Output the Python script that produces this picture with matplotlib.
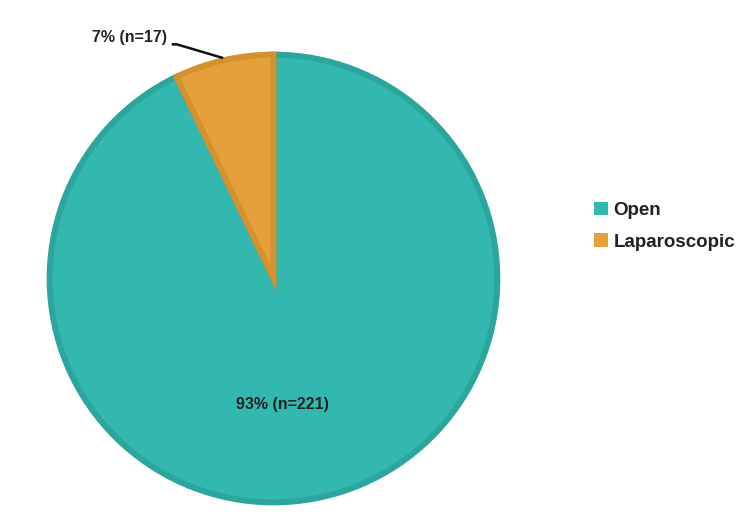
import numpy as np
import matplotlib
matplotlib.use('Agg')
import matplotlib.pyplot as plt
from matplotlib.patches import Patch

labels = ['Open', 'Laparoscopic']
counts = [221, 17]
pcts = ['93%', '7%']
face_colors = ['#33b8b0', '#e5a03a']
edge_colors = ['#2ca59d', '#d3912f']

plt.rcParams['font.family'] = ['Liberation Sans', 'DejaVu Sans']

fig = plt.figure(figsize=(7.5, 5.2), dpi=100)
ax = fig.add_axes([273.5/750 - 227/750, 14.5/520, 454/750, 454/520])

wedges, _ = ax.pie(counts, startangle=90, counterclock=False, radius=1.0,
                   colors=face_colors,
                   wedgeprops=dict(linewidth=4.3))
for w, ec in zip(wedges, edge_colors):
    w.set_edgecolor(ec)
    w.set_joinstyle('miter')

lim = 1.014
ax.set_xlim(-lim, lim)
ax.set_ylim(-lim, lim)
ax.set_aspect('equal')
ax.axis('off')

# label inside the big slice
ax.text(0.042, -0.562, '%s (n=%d)' % (pcts[0], counts[0]), ha='center', va='center',
        fontsize=11.5, fontweight='bold', color='#222222')

# leader-line label for the small slice
w = wedges[1]
mid = np.deg2rad((w.theta1 + w.theta2) / 2.0)
px, py = np.cos(mid) * 1.01, np.sin(mid) * 1.01
ax.plot([-0.455, -0.432, px], [1.046, 1.046, py], color='#111111', lw=1.8,
        solid_capstyle='butt', clip_on=False)
ax.text(-0.475, 1.078, '%s (n=%d)' % (pcts[1], counts[1]), ha='right', va='center',
        fontsize=11.5, fontweight='bold', color='#222222')

handles = [Patch(facecolor=c, edgecolor='none') for c in face_colors]
fig.legend(handles, labels, loc='center left', bbox_to_anchor=(0.792, 0.565),
           frameon=False, prop=dict(size=13.5, weight='bold'),
           handlelength=0.75, handleheight=0.75, handletextpad=0.3,
           labelspacing=0.75, borderpad=0, borderaxespad=0)
for t in fig.legends[0].get_texts():
    t.set_color('#222222')

fig.savefig('out.png', dpi=100)
